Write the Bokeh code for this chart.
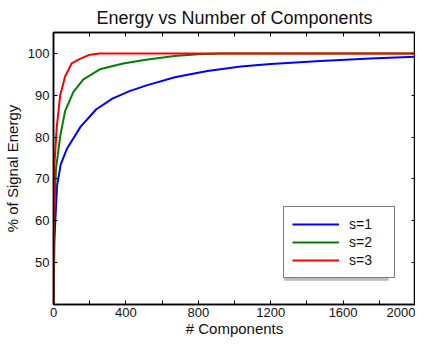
from bokeh.plotting import figure
from bokeh.models import Range1d, FixedTicker, LinearAxis, Legend, LegendItem, BoxAnnotation
from bokeh.embed import file_html
from bokeh.resources import INLINE

# Data
s1_x = [0, 5, 10, 20, 40, 75, 150, 235, 325, 420, 510, 670, 850, 1035, 1200, 1475, 1750, 2000]
s1_y = [40, 55, 60, 68.5, 73.5, 77.3, 82.5, 86.6, 89.2, 91.0, 92.3, 94.3, 95.8, 96.9, 97.5, 98.2, 98.8, 99.2]

s2_x = [0, 3, 14, 37, 64, 110, 165, 256, 385, 511, 668, 800, 923, 1000, 2000]
s2_y = [40, 60, 72.5, 80.2, 86.2, 90.8, 93.8, 96.2, 97.6, 98.5, 99.4, 99.8, 100, 100, 100]

s3_x = [0, 1, 3, 18, 37, 64, 100, 146, 201, 256, 2000]
s3_y = [40, 55, 72, 82.4, 90, 94.5, 97.6, 98.7, 99.7, 100, 100]

x_ticks = [0, 200, 400, 600, 800, 1000, 1200, 1400, 1600, 1800, 2000]
x_labeled = [0, 400, 800, 1200, 1600, 2000]
y_ticks = [50, 60, 70, 80, 90, 100]
series_labels = ["s=1", "s=2", "s=3"]
series_colors = ["#0000ff", "#008000", "#ff0000"]
x_min, x_max = 0, 2000
y_min, y_max = 40, 105
x_title = "# Components"
y_title = "% of Signal Energy"

FONT = "Liberation Sans"
TXT = "#111111"

p = figure(width=415, height=339, output_backend="svg", toolbar_location=None,
           x_range=Range1d(x_min, x_max), y_range=Range1d(y_min, y_max),
           min_border_left=0, min_border_right=0, min_border_top=0, min_border_bottom=0)

p.title.text = "Energy vs Number of Components"
p.title.align = "center"
p.title.text_font = FONT
p.title.text_font_size = "18px"
p.title.text_font_style = "normal"
p.title.text_color = TXT
p.title.offset = 0
p.title.standoff = 10

p.xgrid.visible = False
p.ygrid.visible = False
p.outline_line_color = "black"
p.outline_line_width = 1.5

overrides = {t: ("" if t not in x_labeled else str(t)) for t in x_ticks}

def style_axis(ax, labels=True):
    ax.axis_line_color = "black"
    ax.axis_line_width = 1.5
    ax.major_tick_in = 4
    ax.major_tick_out = 0
    ax.minor_tick_in = 0
    ax.minor_tick_out = 0
    ax.major_tick_line_color = "black"
    ax.major_label_text_font = FONT
    ax.major_label_text_font_size = "13px" if labels else "0px"
    ax.major_label_text_color = TXT
    ax.major_label_standoff = 3 if labels else 0
    ax.axis_label_text_font = FONT
    ax.axis_label_text_font_size = "15px"
    ax.axis_label_text_font_style = "normal"
    ax.axis_label_text_color = TXT

xa = p.xaxis[0]
xa.ticker = FixedTicker(ticks=x_ticks)
xa.major_label_overrides = overrides
style_axis(xa)
xa.major_label_standoff = 3

# x title drawn as the single label of an extra, line-less axis
mid_x = (x_min + x_max) / 2
xt = LinearAxis(ticker=FixedTicker(ticks=[mid_x]))
xt.major_label_overrides = {mid_x: x_title}
xt.axis_line_color = None
xt.major_tick_line_color = None
xt.minor_tick_line_color = None
xt.major_tick_in = 0
xt.major_tick_out = 0
xt.major_label_text_font = FONT
xt.major_label_text_font_size = "15px"
xt.major_label_text_color = TXT
xt.major_label_standoff = 0
p.add_layout(xt, "below")

ya = p.yaxis[0]
ya.ticker = FixedTicker(ticks=y_ticks)
ya.axis_label = y_title
style_axis(ya)
ya.major_label_standoff = 4
ya.axis_label_standoff = 4

top = LinearAxis(ticker=FixedTicker(ticks=x_ticks))
style_axis(top, labels=False)
top.major_label_overrides = {t: "" for t in x_ticks}
p.add_layout(top, "above")

right = LinearAxis(ticker=FixedTicker(ticks=y_ticks))
style_axis(right, labels=False)
right.major_label_overrides = {t: "" for t in y_ticks}
p.add_layout(right, "right")

# legend drop shadow (frame-pixel offsets converted to data units)
FRAME_W, FRAME_H = 364.0, 275.0
LEG_X, LEG_Y, LEG_W, LEG_H = 230, 26, 105, 70
def px_x(v):
    return x_min + v * (x_max - x_min) / FRAME_W
def px_y(v):
    return y_min + v * (y_max - y_min) / FRAME_H
p.add_layout(BoxAnnotation(left=px_x(LEG_X + 2), right=px_x(LEG_X + LEG_W + 2),
                           bottom=px_y(LEG_Y - 2), top=px_y(LEG_Y + LEG_H - 4),
                           fill_color="#808080", fill_alpha=0.55, line_color=None))

renderers = []
for xs, ys, c in zip([s1_x, s2_x, s3_x], [s1_y, s2_y, s3_y], series_colors):
    renderers.append(p.line(xs, ys, line_color=c, line_width=2))

legend = Legend(items=[LegendItem(label=l, renderers=[r]) for l, r in zip(series_labels, renderers)],
                location=(LEG_X, LEG_Y))
legend.label_text_font = FONT
legend.label_text_font_size = "14px"
legend.label_text_color = TXT
legend.label_height = 18
legend.glyph_height = 18
legend.glyph_width = 47
legend.label_width = 37
legend.label_standoff = 10
legend.spacing = 0
legend.padding = 8
legend.margin = 0
legend.border_line_color = "black"
legend.border_line_width = 1
legend.background_fill_color = "white"
legend.background_fill_alpha = 1
p.add_layout(legend, "center")

open("out.html", "w").write(file_html(p, INLINE))
